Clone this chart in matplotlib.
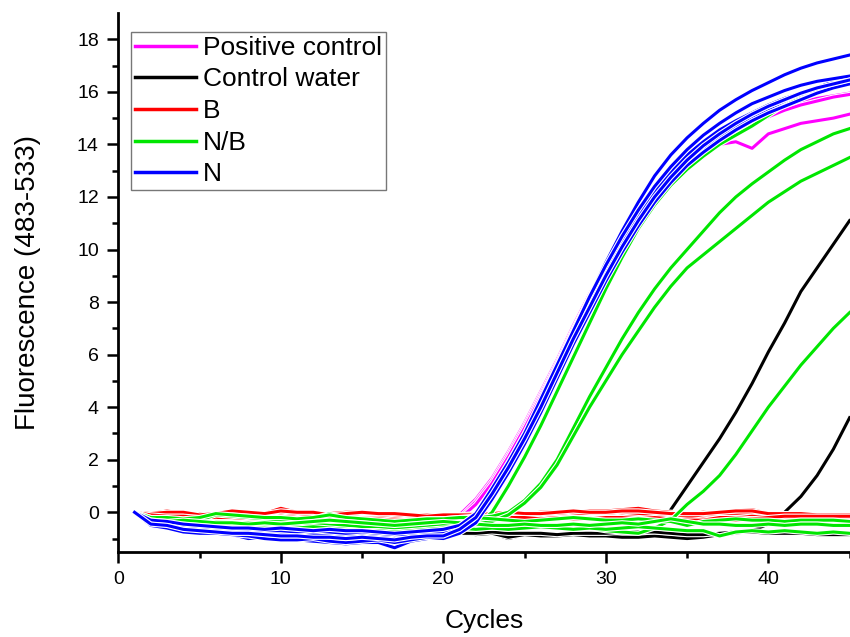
import matplotlib
matplotlib.use("Agg")
import matplotlib.pyplot as plt
import matplotlib.patheffects as pe
from matplotlib.lines import Line2D

plt.rcParams['font.family'] = ['Liberation Sans', 'DejaVu Sans']

# ---- data (fluorescence per cycle, cycles start at 1) ----
positive_control = [
    [0, -0.3, -0.35, -0.45, -0.5, -0.55, -0.6, -0.75, -0.7, -0.7, -0.75, -0.7, -0.75, -0.8, -0.85, -0.9, -0.85, -0.75, -0.6, -0.45,
     -0.1, 0.5, 1.3, 2.3, 3.4, 4.6, 5.8, 7.1, 8.3, 9.4, 10.4, 11.3, 12.1, 12.8, 13.4, 13.9, 14.3, 14.6, 14.9, 15.15, 15.4, 15.6, 15.75, 15.85, 15.95],
    [0, -0.35, -0.4, -0.5, -0.55, -0.6, -0.65, -0.85, -0.75, -0.8, -0.8, -0.8, -0.85, -0.9, -1.0, -0.95, -0.9, -0.8, -0.65, -0.5,
     -0.2, 0.4, 1.2, 2.2, 3.3, 4.5, 5.7, 7.0, 8.2, 9.3, 10.3, 11.2, 12.0, 12.7, 13.3, 13.75, 14.0, 14.1, 13.85, 14.4, 14.6, 14.8, 14.9, 15.0, 15.15],
    [0, -0.4, -0.45, -0.55, -0.6, -0.6, -0.7, -0.8, -0.75, -0.8, -0.85, -0.8, -0.85, -0.9, -0.9, -0.95, -0.9, -0.8, -0.7, -0.55,
     -0.25, 0.3, 1.1, 2.1, 3.2, 4.4, 5.6, 6.9, 8.1, 9.2, 10.2, 11.1, 11.9, 12.6, 13.2, 13.7, 14.15, 14.5, 14.8, 15.05, 15.3, 15.5, 15.65, 15.8, 15.9],
]

control_water = [
    [0, -0.35, -0.4, -0.45, -0.5, -0.55, -0.6, -0.6, -0.65, -0.6, -0.65, -0.7, -0.7, -0.75, -0.7, -0.75, -0.8, -0.75, -0.8, -0.8,
     -0.75, -0.8, -0.8, -1.0, -0.85, -0.85, -0.9, -0.85, -0.85, -0.8, -0.85, -0.85,
     -0.8, 0.1, 1.0, 1.9, 2.8, 3.8, 4.9, 6.1, 7.2, 8.4, 9.3, 10.2, 11.1],
    [0, -0.4, -0.45, -0.5, -0.55, -0.6, -0.65, -0.75, -0.7, -0.7, -0.75, -0.8, -0.75, -0.8, -0.85, -0.8, -0.85, -0.8, -0.85, -0.8,
     -0.8, -0.85, -0.8, -0.95, -0.85, -0.9, -0.9, -0.85, -0.9, -0.9, -0.95, -0.95, -0.9, -0.95, -1.0, -0.95, -0.85, -0.8,
     -0.7, -0.45, 0.0, 0.6, 1.4, 2.4, 3.6],
    [0, -0.35, -0.4, -0.45, -0.5, -0.5, -0.55, -0.6, -0.6, -0.65, -0.65, -0.7, -0.7, -0.7, -0.75, -0.75, -0.8, -0.75, -0.75, -0.75,
     -0.8, -0.8, -0.75, -0.8, -0.8, -0.8, -0.85, -0.8, -0.8, -0.8, -0.75, -0.75, -0.75, -0.8, -0.85, -0.85, -0.8, -0.75, -0.75, -0.8,
     -0.8, -0.8, -0.85, -0.85, -0.85],
]

b_samples = [
    [0, -0.05, 0.05, -0.05, -0.05, -0.1, 0.0, -0.05, -0.05, 0.15, 0.0, -0.05, -0.05, 0.0, 0.0, -0.05, -0.1, -0.1, -0.1, -0.15,
     -0.1, -0.05, -0.05, -0.05, -0.05, 0.0, 0.0, 0.0, 0.05, 0.05, 0.1, 0.15, 0.05, 0.0, -0.05, 0.0, -0.05, 0.05, 0.1, -0.05,
     -0.1, -0.1, -0.1, -0.1, -0.1],
    [0, -0.1, -0.05, -0.1, -0.15, -0.15, -0.05, -0.1, -0.15, -0.05, -0.1, -0.1, -0.15, -0.1, -0.1, -0.15, -0.2, -0.2, -0.2, -0.2,
     -0.15, -0.1, -0.1, -0.1, -0.15, -0.1, -0.1, -0.05, -0.05, -0.1, -0.05, -0.05, -0.05, -0.1, -0.1, -0.1, -0.15, -0.1, -0.05, -0.15,
     -0.15, -0.15, -0.15, -0.15, -0.15],
    [0, -0.15, -0.1, -0.2, -0.2, -0.25, -0.15, -0.2, -0.2, -0.15, -0.2, -0.25, -0.2, -0.25, -0.2, -0.2, -0.25, -0.3, -0.3, -0.3,
     -0.25, -0.2, -0.15, -0.15, -0.2, -0.15, -0.2, -0.15, -0.1, -0.15, -0.1, -0.1, -0.15, -0.2, -0.2, -0.15, -0.2, -0.2, -0.15, -0.2,
     -0.2, -0.2, -0.2, -0.2, -0.2],
    [0, -0.2, -0.15, -0.25, -0.3, -0.3, -0.25, -0.3, -0.35, -0.3, -0.3, -0.35, -0.3, -0.35, -0.3, -0.3, -0.35, -0.4, -0.35, -0.35,
     -0.3, -0.25, -0.2, -0.25, -0.25, -0.2, -0.25, -0.2, -0.2, -0.2, -0.15, -0.2, -0.25, -0.3, -0.35, -0.25, -0.25, -0.3, -0.25, -0.25,
     -0.25, -0.25, -0.25, -0.25, -0.25],
    [0, -0.05, 0.0, 0.0, -0.1, -0.05, 0.05, 0.0, -0.05, 0.05, 0.0, 0.0, -0.1, -0.05, 0.0, -0.05, -0.05, -0.1, -0.15, -0.1,
     -0.1, -0.1, -0.05, 0.0, -0.05, -0.05, 0.0, 0.05, 0.0, 0.0, 0.05, 0.05, 0.0, -0.05, -0.05, -0.05, 0.0, 0.05, 0.05, -0.05,
     -0.05, -0.05, -0.1, -0.1, -0.1],
    [0, -0.1, -0.15, -0.15, -0.2, -0.2, -0.2, -0.25, -0.25, -0.2, -0.25, -0.3, -0.25, -0.2, -0.25, -0.25, -0.3, -0.3, -0.25, -0.25,
     -0.2, -0.15, -0.2, -0.2, -0.2, -0.25, -0.2, -0.25, -0.25, -0.2, -0.2, -0.25, -0.2, -0.25, -0.3, -0.3, -0.2, -0.2, -0.25, -0.2,
     -0.15, -0.15, -0.15, -0.15, -0.15],
]

nb_samples = [
    [0, -0.3, -0.35, -0.4, -0.45, -0.35, -0.4, -0.45, -0.5, -0.5, -0.55, -0.5, -0.45, -0.55, -0.6, -0.6, -0.65, -0.7, -0.65, -0.6,
     -0.55, -0.5, 0.0, 1.0, 2.1, 3.3, 4.6, 5.9, 7.2, 8.5, 9.7, 10.8, 11.7, 12.45, 13.05, 13.55, 14.0, 14.35, 14.7, 15.1,
     15.5, 15.85, 16.15, 16.4, 16.6],
    [0, -0.2, -0.25, -0.3, -0.3, -0.1, -0.15, -0.2, -0.25, -0.3, -0.3, -0.25, -0.05, -0.25, -0.3, -0.35, -0.4, -0.35, -0.3, -0.3,
     -0.25, -0.2, -0.15, 0.0, 0.45, 1.1, 2.0, 3.2, 4.4, 5.5, 6.6, 7.6, 8.5, 9.3, 10.0, 10.7, 11.4, 12.0, 12.5, 12.95,
     13.4, 13.8, 14.1, 14.4, 14.6],
    [0, -0.35, -0.4, -0.5, -0.45, -0.5, -0.55, -0.6, -0.6, -0.65, -0.6, -0.55, -0.6, -0.65, -0.7, -0.75, -0.75, -0.7, -0.6, -0.55,
     -0.5, -0.45, -0.35, -0.1, 0.35, 0.95, 1.8, 2.9, 4.0, 5.0, 6.0, 6.9, 7.8, 8.6, 9.3, 9.8, 10.3, 10.8, 11.3, 11.8,
     12.2, 12.6, 12.9, 13.2, 13.5],
    [0, -0.3, -0.3, -0.35, -0.4, -0.35, -0.4, -0.4, -0.45, -0.45, -0.5, -0.45, -0.5, -0.5, -0.55, -0.6, -0.6, -0.6, -0.55, -0.5,
     -0.55, -0.6, -0.6, -0.55, -0.6, -0.55, -0.6, -0.65, -0.6, -0.7, -0.75,
     -0.8, -0.6, -0.3, 0.3, 0.8, 1.4, 2.2, 3.1, 4.0, 4.8, 5.6, 6.3, 7.0, 7.6],
    [0, -0.2, -0.2, -0.25, -0.2, -0.05, -0.1, -0.15, -0.2, -0.2, -0.25, -0.2, -0.1, -0.2, -0.25, -0.3, -0.35, -0.3, -0.25, -0.25,
     -0.2, -0.2, -0.25, -0.3, -0.35, -0.3, -0.25, -0.2, -0.25, -0.3, -0.3, -0.25, -0.3, -0.35, -0.5, -0.35, -0.3, -0.25, -0.3, -0.3,
     -0.35, -0.3, -0.3, -0.3, -0.35],
    [0, -0.4, -0.45, -0.5, -0.55, -0.5, -0.55, -0.6, -0.6, -0.65, -0.6, -0.55, -0.6, -0.65, -0.7, -0.7, -0.75, -0.7, -0.65, -0.6,
     -0.6, -0.65, -0.6, -0.65, -0.6, -0.55, -0.6, -0.65, -0.6, -0.65, -0.6, -0.55, -0.6, -0.65, -0.7, -0.7, -0.9, -0.75, -0.7, -0.75,
     -0.7, -0.75, -0.8, -0.75, -0.8],
    [0, -0.3, -0.35, -0.3, -0.35, -0.4, -0.4, -0.45, -0.4, -0.45, -0.4, -0.35, -0.3, -0.35, -0.4, -0.45, -0.5, -0.45, -0.4, -0.35,
     -0.4, -0.45, -0.5, -0.5, -0.45, -0.5, -0.5, -0.45, -0.5, -0.45, -0.4, -0.45, -0.35, -0.25, -0.35, -0.45, -0.45, -0.5, -0.5, -0.45,
     -0.5, -0.45, -0.45, -0.5, -0.5],
]

n_samples = [
    [0, -0.45, -0.5, -0.6, -0.7, -0.75, -0.8, -0.9, -0.85, -0.9, -0.95, -1.0, -1.0, -1.05, -1.0, -1.1, -1.2, -1.0, -0.9, -0.85,
     -0.6, -0.2, 0.7, 1.8, 2.9, 4.2, 5.5, 6.9, 8.2, 9.5, 10.7, 11.8, 12.8, 13.6, 14.25, 14.8, 15.3, 15.7, 16.05, 16.35,
     16.65, 16.9, 17.1, 17.25, 17.4],
    [0, -0.5, -0.55, -0.7, -0.75, -0.8, -0.85, -1.0, -0.95, -1.0, -1.05, -1.1, -1.15, -1.2, -1.15, -1.15, -1.35, -1.1, -1.0, -0.95,
     -0.7, -0.3, 0.6, 1.6, 2.7, 3.9, 5.2, 6.5, 7.7, 8.9, 10.0, 11.0, 11.9, 12.65, 13.3, 13.85, 14.3, 14.7, 15.05, 15.35,
     15.65, 15.95, 16.15, 16.4, 16.6],
    [0, -0.4, -0.45, -0.55, -0.6, -0.65, -0.7, -0.75, -0.75, -0.8, -0.8, -0.85, -0.85, -0.9, -0.85, -0.9, -0.95, -0.9, -0.85, -0.8,
     -0.6, -0.1, 0.8, 1.8, 2.9, 4.1, 5.4, 6.7, 7.9, 9.1, 10.2, 11.2, 12.1, 12.85, 13.5, 14.0, 14.45, 14.85, 15.15, 15.45,
     15.7, 15.9, 16.1, 16.3, 16.5],
    [0, -0.35, -0.4, -0.5, -0.55, -0.6, -0.6, -0.65, -0.7, -0.7, -0.75, -0.7, -0.75, -0.8, -0.75, -0.8, -0.85, -0.85, -0.8, -0.75,
     -0.55, -0.05, 0.85, 1.9, 3.0, 4.2, 5.5, 6.8, 8.0, 9.2, 10.3, 11.3, 12.2, 12.95, 13.6, 14.1, 14.55, 14.9, 15.2, 15.5,
     15.75, 15.95, 16.1, 16.25, 16.4],
    [0, -0.5, -0.6, -0.75, -0.8, -0.8, -0.85, -0.9, -1.0, -1.05, -1.05, -1.0, -1.1, -1.15, -1.1, -1.05, -1.15, -1.05, -0.95, -1.0,
     -0.8, -0.4, 0.5, 1.5, 2.6, 3.8, 5.1, 6.4, 7.6, 8.8, 9.9, 10.9, 11.8, 12.55, 13.2, 13.7, 14.15, 14.55, 14.9, 15.2,
     15.45, 15.7, 15.95, 16.15, 16.3],
    [0, -0.3, -0.35, -0.45, -0.5, -0.55, -0.6, -0.6, -0.65, -0.6, -0.65, -0.7, -0.65, -0.7, -0.7, -0.75, -0.8, -0.75, -0.7, -0.65,
     -0.5, -0.05, 0.9, 1.9, 3.0, 4.3, 5.6, 6.9, 8.2, 9.4, 10.5, 11.5, 12.4, 13.15, 13.8, 14.35, 14.8, 15.2, 15.55, 15.8,
     16.05, 16.25, 16.4, 16.5, 16.6],
    [0, -0.45, -0.5, -0.65, -0.7, -0.75, -0.8, -0.8, -0.85, -0.9, -0.9, -0.95, -0.95, -1.0, -0.95, -1.0, -1.05, -0.95, -0.9, -0.9,
     -0.65, -0.2, 0.7, 1.7, 2.8, 4.0, 5.3, 6.6, 7.8, 9.0, 10.1, 11.1, 12.0, 12.75, 13.4, 13.95, 14.4, 14.8, 15.15, 15.45,
     15.7, 15.95, 16.15, 16.3, 16.45],
]

legend_labels = ["Positive control", "Control water", "B", "N/B", "N"]
colors = ["#ff00ff", "#000000", "#ff0000", "#00e600", "#0000ff"]

# ---- figure ----
fig = plt.figure(figsize=(8.5, 6.37), dpi=100)
ax = fig.add_axes([118.3 / 850, (637 - 551.7) / 637, (849.6 - 118.3) / 850, (551.7 - 13) / 637])

groups = [control_water, positive_control, b_samples, nb_samples, n_samples]
group_colors = [colors[1], colors[0], colors[2], colors[3], colors[4]]
lw = 2.2
for grp, col in zip(groups, group_colors):
    for ys in grp:
        xs = list(range(1, len(ys) + 1))
        ax.plot(xs, ys, color=col, lw=lw, solid_joinstyle='round',
                path_effects=[pe.Stroke(linewidth=lw + 1.6, foreground='white'), pe.Normal()])

ax.set_xlim(0, 45)
ax.set_ylim(-1.5, 19)
ax.set_xticks([0, 10, 20, 30, 40])
ax.set_xticks([5, 15, 25, 35, 45], minor=True)
ax.set_yticks(list(range(0, 19, 2)))
ax.set_yticks(list(range(-1, 19, 2)), minor=True)

for s in ['top', 'right']:
    ax.spines[s].set_visible(False)
for s in ['left', 'bottom']:
    ax.spines[s].set_linewidth(2.0)

ax.tick_params(which='major', direction='out', length=8, width=1.8, labelsize=14, pad=6)
ax.tick_params(which='minor', direction='out', length=4.5, width=1.8)

ax.set_xlabel("Cycles", fontsize=19, labelpad=15)
ax.set_ylabel("Fluorescence (483-533)", fontsize=20, labelpad=26)

handles = [Line2D([0], [0], color=c, lw=2.5) for c in colors]
leg = ax.legend(handles, legend_labels, loc='upper left', bbox_to_anchor=(0.018, 0.965),
                fontsize=19, frameon=True, fancybox=False, edgecolor='#555555',
                handlelength=2.3, handletextpad=0.27, labelspacing=0.29, borderpad=0.15,
                borderaxespad=0.0)
leg.get_frame().set_linewidth(1.0)

fig.savefig("out.png", dpi=100)
